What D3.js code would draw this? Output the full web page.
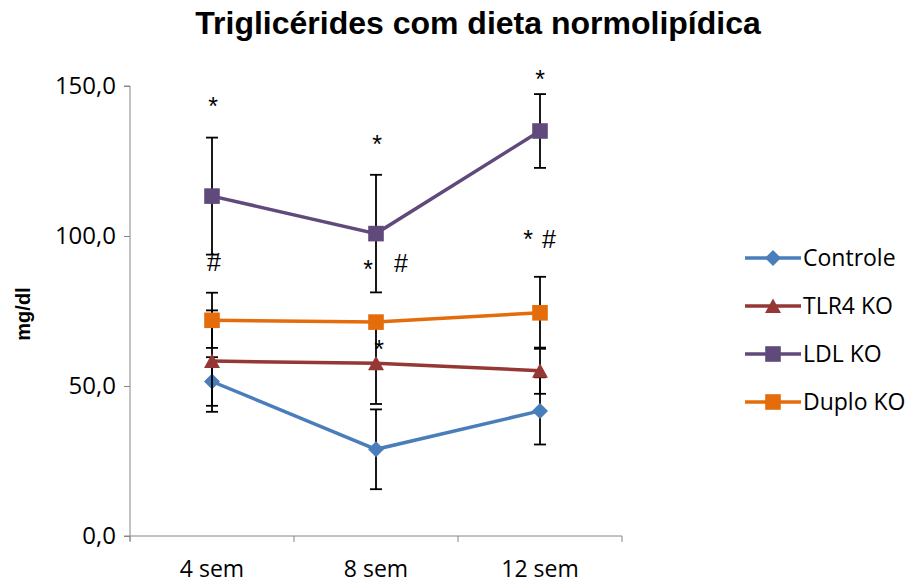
<!DOCTYPE html>
<html>
<head>
<meta charset="utf-8">
<script src="https://cdn.jsdelivr.net/npm/d3@7"></script>
<style>
  body { margin: 0; background: #fff; }
  svg text { font-family: "Liberation Sans", Arial, sans-serif; }
</style>
</head>
<body>
<div id="chart"></div>
<script>
// data
const categories = ["4 sem", "8 sem", "12 sem"];
const seriesNames = ["Controle", "TLR4 KO", "LDL KO", "Duplo KO"];
const controle = [51.5, 28.9, 41.7];
const controleErr = [8.1, 13.3, 11.2];
const tlr4 = [58.3, 57.6, 55.1];
const tlr4Err = [16.9, 13.6, 7.7];
const ldl = [113.3, 100.8, 135.0];
const ldlErr = [19.5, 19.6, 12.3];
const duplo = [71.9, 71.3, 74.4];
const duploErr = [9.2, 2.0, 12.0];
const yTicks = [0, 50, 100, 150];

// significance marks: category, value (mg/dl) at glyph centre, horizontal nudge
const marks = [
  { cat: "4 sem", v: 145.3, dx: 1, t: "*" },
  { cat: "4 sem", v: 91.3, dx: 2, t: "#" },
  { cat: "8 sem", v: 132.7, dx: 1, t: "*" },
  { cat: "8 sem", v: 91, dx: -8, t: "*" },
  { cat: "8 sem", v: 91, dx: 25, t: "#" },
  { cat: "8 sem", v: 64.3, dx: 3, t: "*" },
  { cat: "12 sem", v: 154.3, dx: 0, t: "*" },
  { cat: "12 sem", v: 101, dx: -12, t: "*" },
  { cat: "12 sem", v: 99, dx: 9, t: "#" }
];

const series = [
  { name: seriesNames[0], values: controle, err: controleErr, color: "#4a7ebb", shape: "diamond" },
  { name: seriesNames[1], values: tlr4, err: tlr4Err, color: "#953735", shape: "triangle" },
  { name: seriesNames[2], values: ldl, err: ldlErr, color: "#604a7b", shape: "square" },
  { name: seriesNames[3], values: duplo, err: duploErr, color: "#e46c0a", shape: "square" }
];

const width = 910, height = 587;
const svg = d3.select("#chart").append("svg")
  .attr("width", width)
  .attr("height", height);

const x = d3.scaleBand().domain(categories).range([130, 622]);
const y = d3.scaleLinear().domain([0, 150]).range([536, 86]);

// excel-like markers, centred on their bounding box
const symbolFor = function(shape) {
  if (shape === "diamond") return "M0,-8L8,0L0,8L-8,0Z";
  if (shape === "triangle") return "M0,-7.5L8,7L-8,7Z";
  return "M-7.8,-7.8H7.8V7.8H-7.8Z";
};

// title
svg.append("text")
  .attr("x", 478).attr("y", 34)
  .attr("text-anchor", "middle")
  .style("font-size", "32px").style("font-weight", "bold")
  .text("Triglicérides com dieta normolipídica");

// y axis
const yAxis = d3.axisLeft(y).tickValues(yTicks).tickSize(6).tickPadding(8)
  .tickFormat(d => d3.format(".1f")(d).replace(".", ","));
const gy = svg.append("g").attr("transform", "translate(130,0)").call(yAxis);
gy.select(".domain").attr("stroke", "#868686").attr("d", "M-6,86H0V541");
gy.selectAll(".tick line").attr("stroke", "#868686");
gy.selectAll(".tick text").style("font-size", "24px").attr("fill", "#000")
  .style("font-family", "'Open Sans', sans-serif");

// x axis
const xAxis = d3.axisBottom(x).tickSize(0).tickPadding(25);
const gx = svg.append("g").attr("transform", "translate(0,536)").call(xAxis);
gx.select(".domain").attr("stroke", "#868686").attr("d", "M124,0H622");
gx.selectAll(".tick text").style("font-size", "23px").attr("fill", "#000")
  .style("font-family", "'Open Sans', sans-serif");
gx.selectAll(".bound")
  .data(categories.map(c => x(c) + x.bandwidth()).concat([130]))
  .enter().append("line")
  .attr("x1", d => d).attr("x2", d => d)
  .attr("y1", 0).attr("y2", 6)
  .attr("stroke", "#868686");

svg.append("text")
  .attr("transform", "translate(30,314) rotate(-90)")
  .attr("text-anchor", "middle")
  .style("font-size", "20px").style("font-weight", "bold")
  .text("mg/dl");

const cx = c => x(c) + x.bandwidth() / 2;

// lines
const line = d3.line().x((d, i) => cx(categories[i])).y(d => y(d));
svg.selectAll(".series")
  .data(series)
  .enter().append("path")
  .attr("d", d => line(d.values))
  .attr("fill", "none")
  .attr("stroke", d => d.color)
  .attr("stroke-width", 3.5);

// error bars then markers, series by series (later markers cover earlier bars)
series.forEach(s => {
  const eb = svg.append("g").attr("stroke", "#000").attr("stroke-width", 1.8);
  s.values.forEach((v, i) => {
    const px = cx(categories[i]);
    const lo = y(v - s.err[i]), hi = y(v + s.err[i]);
    eb.append("line").attr("x1", px).attr("x2", px).attr("y1", lo).attr("y2", hi);
    eb.append("line").attr("x1", px - 6).attr("x2", px + 6).attr("y1", lo).attr("y2", lo);
    eb.append("line").attr("x1", px - 6).attr("x2", px + 6).attr("y1", hi).attr("y2", hi);
  });
  svg.selectAll(null)
    .data(s.values)
    .enter().append("path")
    .attr("d", symbolFor(s.shape))
    .attr("transform", (d, i) => "translate(" + cx(categories[i]) + "," + y(d) + ")")
    .attr("fill", s.color);
});

// significance marks
svg.selectAll(".mark")
  .data(marks)
  .enter().append("text")
  .attr("x", d => cx(d.cat) + d.dx)
  .attr("y", d => y(d.v))
  .attr("dy", d => d.t === "*" ? "0.6em" : "0.36em")
  .attr("text-anchor", "middle")
  .style("font-size", "25px")
  .text(d => d.t);

// legend
const legend = svg.append("g").attr("transform", "translate(745,258)");
series.forEach((s, i) => {
  const g = legend.append("g").attr("transform", "translate(0," + (i * 48) + ")");
  g.append("line").attr("x1", 0).attr("x2", 56).attr("y1", 0).attr("y2", 0)
    .attr("stroke", s.color).attr("stroke-width", 3.5);
  g.append("path").attr("d", symbolFor(s.shape)).attr("transform", "translate(28,0)").attr("fill", s.color);
  g.append("text").attr("x", 58).attr("y", 8)
    .style("font-size", "23px")
    .style("font-family", "'Open Sans', sans-serif")
    .text(s.name);
});
</script>
</body>
</html>
